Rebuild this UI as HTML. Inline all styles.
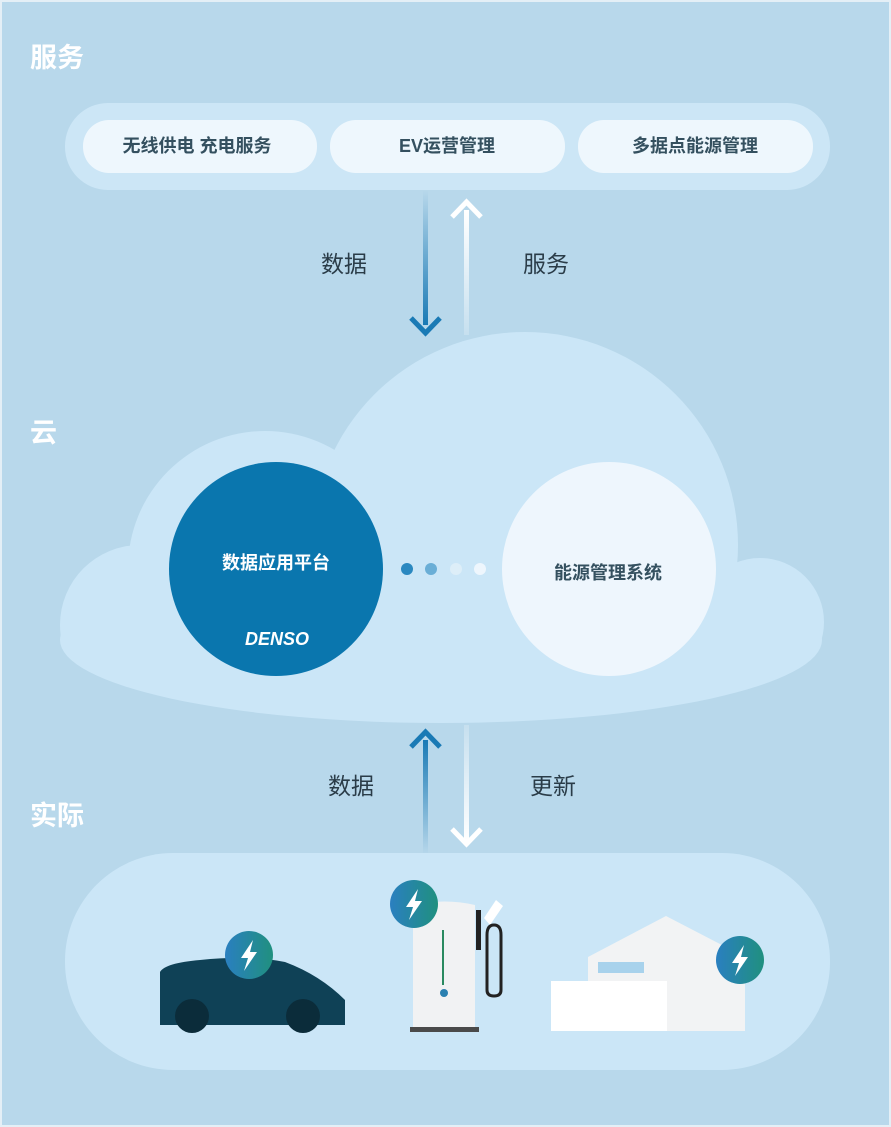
<!DOCTYPE html>
<html><head><meta charset="utf-8"><style>
html,body{margin:0;padding:0;background:#fff}
svg{display:block}
text{font-family:"Liberation Sans","Noto Sans CJK SC",sans-serif}
</style></head><body>
<svg width="891" height="1127" viewBox="0 0 891 1127" xmlns="http://www.w3.org/2000/svg">
<defs>
<linearGradient id="bolt" x1="0" y1="0" x2="1" y2="0"><stop offset="0" stop-color="#2a7fc0"/><stop offset="1" stop-color="#20907f"/></linearGradient>
<linearGradient id="dn" x1="0" y1="0" x2="0" y2="1"><stop offset="0" stop-color="#1a7ab5" stop-opacity="0"/><stop offset="1" stop-color="#1a7ab5"/></linearGradient>
<linearGradient id="up2" x1="0" y1="1" x2="0" y2="0"><stop offset="0" stop-color="#1a7ab5" stop-opacity="0"/><stop offset="1" stop-color="#1a7ab5"/></linearGradient>
<linearGradient id="wu" x1="0" y1="1" x2="0" y2="0"><stop offset="0" stop-color="#fff" stop-opacity="0.2"/><stop offset="1" stop-color="#fff"/></linearGradient>
<linearGradient id="wd" x1="0" y1="0" x2="0" y2="1"><stop offset="0" stop-color="#fff" stop-opacity="0.2"/><stop offset="1" stop-color="#fff"/></linearGradient>
<clipPath id="top"><rect x="0" y="0" width="891" height="650"/></clipPath>
<g id="bl"><circle r="24" fill="url(#bolt)"/><path d="M4,-15 L-8,3 L-1,3 L-5,16 L8,-3 L1,-3 Z" fill="#fff"/></g>
</defs>
<rect x="0" y="0" width="891" height="1127" fill="#b8d8eb"/>
<rect x="1" y="1" width="889" height="1125" fill="none" stroke="#e4eff6" stroke-width="2"/>
<text x="30" y="67" font-size="27" font-weight="bold" fill="#fff">服务</text>
<text x="30" y="442" font-size="27" font-weight="bold" fill="#fff">云</text>
<text x="30" y="825" font-size="27" font-weight="bold" fill="#fff">实际</text>

<rect x="65" y="103" width="765" height="87" rx="43" fill="#cce6f6"/>
<rect x="83" y="120" width="234" height="53" rx="26" fill="#eef7fd"/>
<rect x="330" y="120" width="235" height="53" rx="26" fill="#eef7fd"/>
<rect x="578" y="120" width="235" height="53" rx="26" fill="#eef7fd"/>
<g font-size="18" font-weight="bold" fill="#34505f" text-anchor="middle">
<text x="197" y="152">无线供电 充电服务</text>
<text x="447" y="152">EV运营管理</text>
<text x="695" y="152">多据点能源管理</text>
</g>

<!-- cloud -->
<g fill="#cbe6f7">
<g clip-path="url(#top)">
<circle cx="525" cy="545" r="213"/>
<circle cx="265" cy="568" r="137"/>
<circle cx="140" cy="625" r="80"/>
<circle cx="760" cy="622" r="64"/>
</g>
<ellipse cx="441" cy="640" rx="381" ry="83"/>
</g>

<!-- top arrows -->
<rect x="423" y="190" width="5" height="135" fill="url(#dn)"/>
<path d="M411,318 L425.5,333 L440,318" fill="none" stroke="#1a7ab5" stroke-width="5"/>
<rect x="464" y="210" width="5" height="125" fill="url(#wu)"/>
<path d="M452,217 L466.5,202 L481,217" fill="none" stroke="#fff" stroke-width="5"/>
<text x="344" y="272" font-size="23" fill="#2a3c48" text-anchor="middle">数据</text>
<text x="546" y="272" font-size="23" fill="#2a3c48" text-anchor="middle">服务</text>

<circle cx="276" cy="569" r="107" fill="#0a76ae"/>
<text x="276" y="569" font-size="18" font-weight="bold" fill="#fff" text-anchor="middle">数据应用平台</text>
<text x="277" y="645" font-size="18" font-weight="bold" font-style="italic" fill="#fff" text-anchor="middle">DENSO</text>
<circle cx="609" cy="569" r="107" fill="#eef6fd"/>
<text x="608" y="579" font-size="18" font-weight="bold" fill="#34505f" text-anchor="middle">能源管理系统</text>
<circle cx="407" cy="569" r="6" fill="#2a88c0"/>
<circle cx="431" cy="569" r="6" fill="#6aaed6"/>
<circle cx="456" cy="569" r="6" fill="#ddeef8"/>
<circle cx="480" cy="569" r="6" fill="#eef6fd"/>

<!-- bottom arrows -->
<rect x="423" y="740" width="5" height="115" fill="url(#up2)"/>
<path d="M411,747 L425.5,732 L440,747" fill="none" stroke="#1a7ab5" stroke-width="5"/>
<rect x="464" y="725" width="5" height="117" fill="url(#wd)"/>
<path d="M452,829 L466.5,844 L481,829" fill="none" stroke="#fff" stroke-width="5"/>
<text x="351" y="794" font-size="23" fill="#2a3c48" text-anchor="middle">数据</text>
<text x="553" y="794" font-size="23" fill="#2a3c48" text-anchor="middle">更新</text>

<rect x="65" y="853" width="765" height="217" rx="108" fill="#cbe6f7"/>

<!-- car -->
<path d="M160,972 Q165,963 200,960 Q250,955 285,962 Q320,975 345,1000 L345,1025 L160,1025 Z" fill="#0f4156"/>
<circle cx="192" cy="1016" r="17" fill="#0b2c3a"/>
<circle cx="303" cy="1016" r="17" fill="#0b2c3a"/>
<use href="#bl" x="249" y="955"/>

<!-- charger -->
<path d="M413,905 Q445,898 475,905 L475,1028 L413,1028 Z" fill="#f1f2f3"/>
<rect x="410" y="1027" width="69" height="5" fill="#4a4a4a"/>
<rect x="442" y="930" width="2" height="55" fill="#2a8a60"/>
<circle cx="444" cy="993" r="4" fill="#2a80b0"/>
<rect x="476" y="910" width="5" height="40" fill="#222"/>
<path d="M484,918 L496,900 L503,906 L490,925 Z" fill="#fff"/>
<path d="M494,925 Q487,925 487,935 L487,990 Q487,996 494,996 Q501,996 501,990 L501,935 Q501,925 494,925" fill="none" stroke="#222" stroke-width="3"/>
<use href="#bl" x="414" y="904"/>

<!-- house -->
<path d="M588,957 L666,916 L745,957 L745,1031 L588,1031 Z" fill="#f2f3f4"/>
<rect x="551" y="981" width="116" height="50" fill="#fff"/>
<rect x="598" y="962" width="46" height="11" fill="#a8d2ec"/>
<use href="#bl" x="740" y="960"/>
</svg>
</body></html>
